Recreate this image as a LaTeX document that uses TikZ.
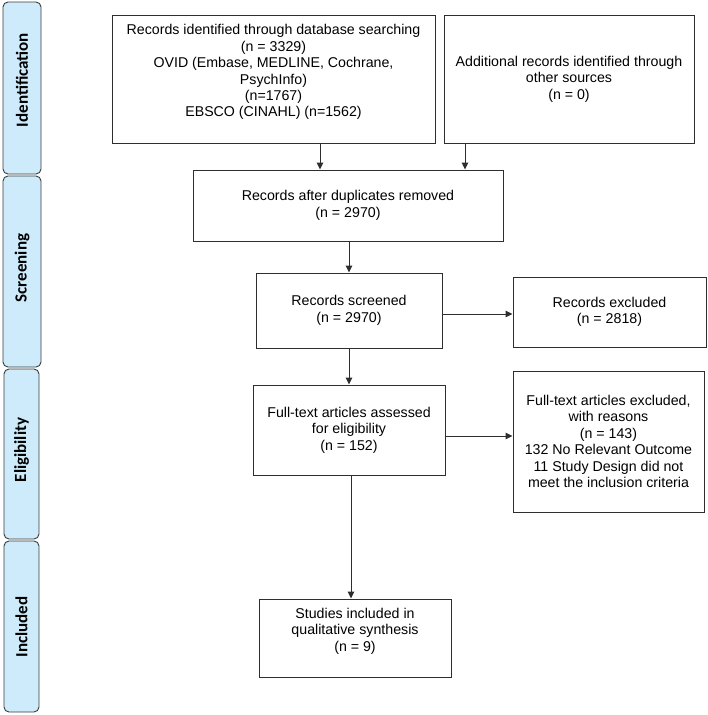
\documentclass[tikz,border=0pt]{standalone}
\usepackage{fontspec}
\setmainfont{Liberation Sans}
\newfontfamily\phasefont{Carlito}
\usetikzlibrary{arrows.meta}
\definecolor{phasefill}{HTML}{CDEBFB}
\definecolor{phaseline}{HTML}{3C3C3C}
\definecolor{boxline}{HTML}{2E2E2E}
\begin{document}
\begin{tikzpicture}[x=1pt,y=-1pt,
  box/.style={draw=boxline,line width=1pt,align=center,inner sep=0pt,
    font=\fontsize{14.2}{16.4}\selectfont},
  phasebox/.style={draw=phaseline,fill=phasefill,line width=0.9pt,rounded corners=5pt},
  phasetext/.style={rotate=90,font=\phasefont\bfseries\fontsize{17}{18}\selectfont},
  arr/.style={draw=boxline,line width=1pt,-{Triangle[length=7pt,width=6.5pt]}}]
\useasboundingbox (0,0) rectangle (708,715);
% phase bars
\draw[phasebox] (3,2) rectangle (41,174);
\node[phasetext] (pid) at (22,80) {Identification};
\draw[phasebox] (3,176) rectangle (41,367);
\node[phasetext] (psc) at (22,268) {Screening};
\draw[phasebox] (4,369) rectangle (39,539);
\node[phasetext] (pel) at (21.5,450) {Eligibility};
\draw[phasebox] (4,541) rectangle (39,712);
\node[phasetext] (pin) at (21.5,627) {Included};
% boxes
\node[box,minimum width=323,minimum height=128] (db) at (273.5,79)
  {Records identified through database searching\\(n = 3329)\\OVID (Embase, MEDLINE, Cochrane,\\PsychInfo)\\(n=1767)\\EBSCO (CINAHL) (n=1562)\\\mbox{}};
\node[box,minimum width=250,minimum height=128] (oth) at (569,79)
  {Additional records identified through\\other sources\\(n = 0)};
\node[box,minimum width=310,minimum height=71] (dup) at (348,205.5)
  {Records after duplicates removed\\(n = 2970)};
\node[box,minimum width=186,minimum height=75] (scr) at (349,310.5)
  {Records screened\\(n = 2970)};
\node[box,minimum width=193,minimum height=70] (rex) at (609.5,312)
  {Records excluded\\(n = 2818)};
\node[box,minimum width=192,minimum height=90] (ft) at (349,430)
  {Full-text articles assessed\\for eligibility\\(n = 152)};
\node[box,minimum width=191,minimum height=141] (fex) at (608.5,441.5)
  {Full-text articles excluded,\\with reasons\\(n = 143)\\132 No Relevant Outcome\\11 Study Design did not\\meet the inclusion criteria};
\node[box,minimum width=192,minimum height=78] (inc) at (355,638)
  {Studies included in\\qualitative synthesis\\(n = 9)\\\mbox{}};
% connectors
\coordinate (a1) at (320,143);
\coordinate (a2) at (465,143);
\draw[arr] (a1) -- (a1 |- dup.north);
\draw[arr] (a2) -- (a2 |- dup.north);
\draw[arr] (dup.south -| scr.north) -- (scr.north);
\coordinate (b1) at (442,314);
\draw[arr] (b1) -- (b1 -| rex.west);
\draw[arr] (scr.south) -- (ft.north);
\coordinate (b2) at (445,436);
\draw[arr] (b2) -- (b2 -| fex.west);
\coordinate (c1) at (351,475);
\draw[arr] (c1) -- (c1 |- inc.north);
\end{tikzpicture}
\end{document}
